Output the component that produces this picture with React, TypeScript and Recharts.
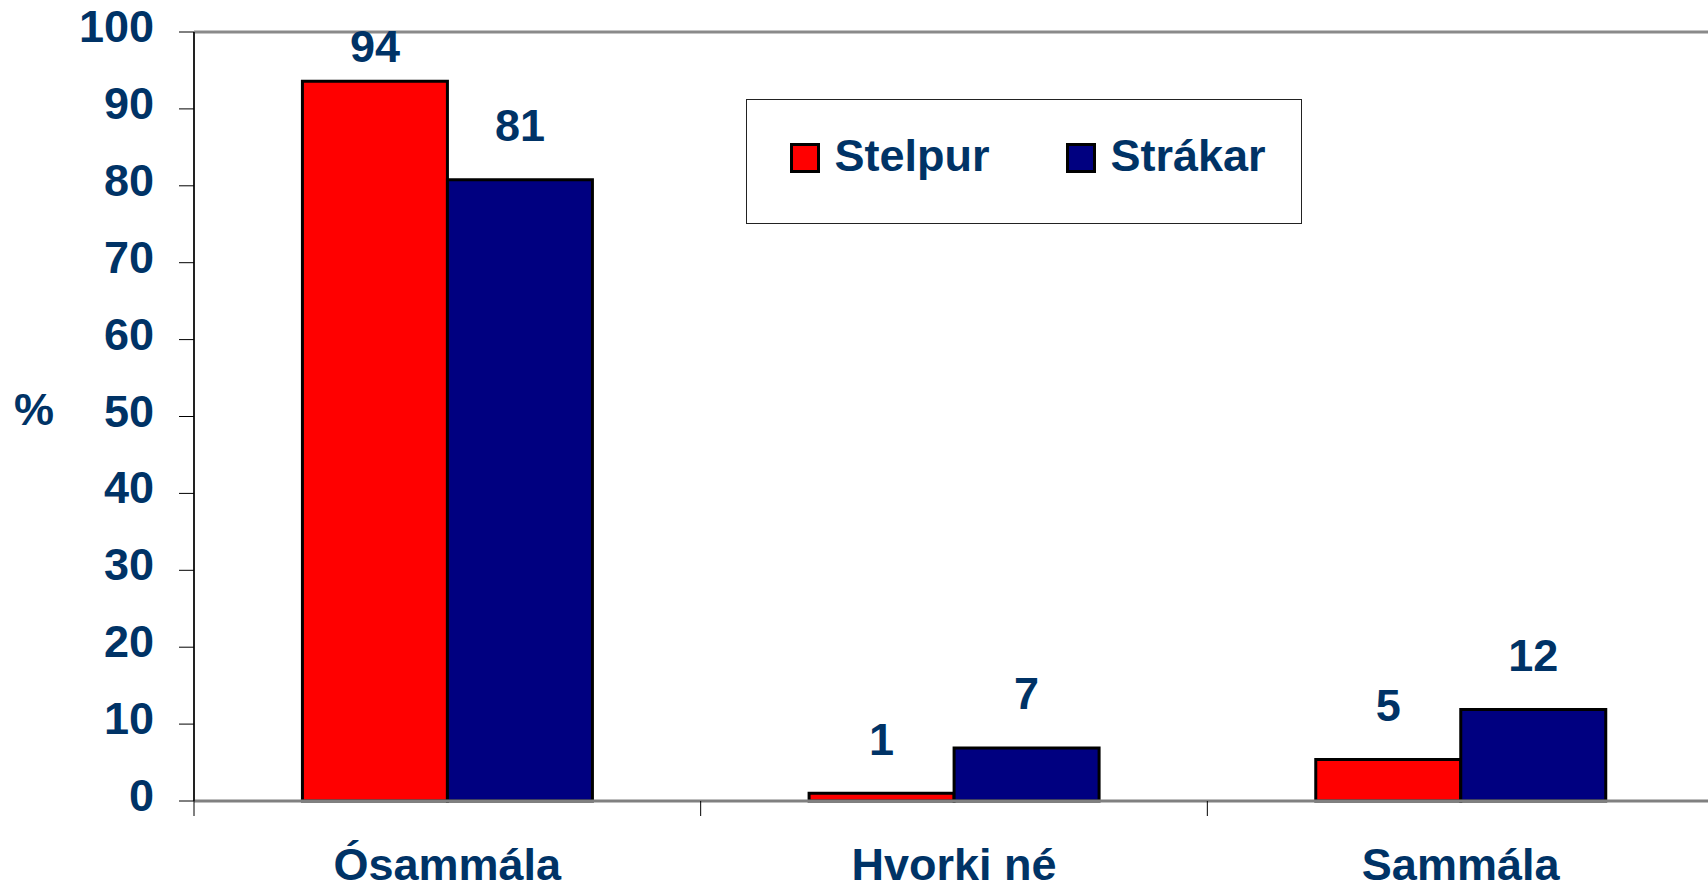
import React from 'react';
import { BarChart, Bar, XAxis, YAxis, Legend, LabelList, ReferenceLine } from 'recharts';

const categories = ['Ósammála', 'Hvorki né', 'Sammála'];
const stelpur = [93.6, 1.0, 5.4];
const strakar = [80.8, 6.9, 11.9];
const yTicks = [0, 10, 20, 30, 40, 50, 60, 70, 80, 90, 100];
const seriesNames = { stelpur: 'Stelpur', strakar: 'Strákar' };

const data = categories.map((c, i) => ({ name: c, stelpur: stelpur[i], strakar: strakar[i] }));

const FONT = '"Liberation Sans", Arial, Helvetica, sans-serif';
const TEXT = '#003366';
const RED = '#FF0000';
const NAVY = '#000080';

const YTick = (props: any) => {
  const { x, y, payload } = props;
  return (
    <text x={x} y={y} dy={10} textAnchor="end" fill={TEXT} fontFamily={FONT} fontWeight="bold" fontSize={45}>
      {payload.value}
    </text>
  );
};

const XTick = (props: any) => {
  const { x, y, payload } = props;
  const off = payload && typeof payload.offset === 'number' ? payload.offset : 253;
  return (
    <g>
      <line x1={x - off} x2={x - off} y1={y} y2={y + 15} stroke="#000" strokeWidth={1} />
      <text x={x} y={y + 79} textAnchor="middle" fill={TEXT} fontFamily={FONT} fontWeight="bold" fontSize={45}>
        {payload.value}
      </text>
    </g>
  );
};

const renderLabel = (props: any) => {
  const { x, y, width, value } = props;
  const baseline = Math.max(y - 38.5, 62);
  return (
    <text x={x + width / 2} y={baseline} textAnchor="middle" fill={TEXT} fontFamily={FONT} fontWeight="bold" fontSize={45}>
      {Math.round(value)}
    </text>
  );
};

const LegendBox = (props: any) => {
  const { payload } = props;
  return (
    <div
      style={{
        position: 'relative',
        width: 556,
        height: 125,
        boxSizing: 'border-box',
        border: '1px solid #222',
        background: '#fff',
        fontFamily: FONT,
      }}
    >
      <div style={{ position: 'absolute', left: 43, top: 43, height: 30, display: 'flex', alignItems: 'center' }}>
        {(payload || []).map((p: any) => (
          <div key={p.value} style={{ width: 276, display: 'flex', alignItems: 'center', height: 30 }}>
            <div
              style={{
                width: 30,
                height: 30,
                boxSizing: 'border-box',
                border: '3px solid #000',
                background: p.color,
              }}
            />
            <span
              style={{
                marginLeft: 14.5,
                fontSize: 45,
                fontWeight: 'bold',
                color: TEXT,
                lineHeight: '30px',
                position: 'relative',
                top: -2,
                whiteSpace: 'nowrap',
              }}
            >
              {p.value}
            </span>
          </div>
        ))}
      </div>
    </div>
  );
};

const PercentLabel = () => (
  <text x={14} y={425} textAnchor="start" fill={TEXT} fontFamily={FONT} fontWeight="bold" fontSize={45}>
    %
  </text>
);

export default function App() {
  return (
    <div style={{ position: 'absolute', left: 0, top: 0, width: 1708, height: 889, overflow: 'hidden', background: '#fff' }}>
      <BarChart
        width={1720}
        height={889}
        data={data}
        margin={{ top: 32, right: 6, bottom: 0, left: 0 }}
        barCategoryGap="21.4%"
        barGap={0}
      >
        <ReferenceLine y={100} stroke="#8a8a8a" strokeWidth={3} />
        <XAxis
          dataKey="name"
          height={88}
          tickLine={false}
          tickSize={0}
          tickMargin={0}
          axisLine={{ stroke: '#808080', strokeWidth: 3 }}
          tick={<XTick />}
          interval={0}
        />
        <YAxis
          width={194}
          domain={[0, 100]}
          ticks={yTicks}
          interval={0}
          tickSize={15}
          tickMargin={25}
          tickLine={{ stroke: '#000', strokeWidth: 1 }}
          axisLine={{ stroke: '#222', strokeWidth: 2 }}
          tick={<YTick />}
          label={<PercentLabel />}
        />
        <Legend
          layout="horizontal"
          align="center"
          verticalAlign="middle"
          width={556}
          height={125}
          wrapperStyle={{ left: 746, top: 99, width: 556, height: 125 }}
          content={<LegendBox />}
        />
        <Bar dataKey="stelpur" name={seriesNames.stelpur} fill={RED} stroke="#000" strokeWidth={3} isAnimationActive={false}>
          <LabelList dataKey="stelpur" content={renderLabel} />
        </Bar>
        <Bar dataKey="strakar" name={seriesNames.strakar} fill={NAVY} stroke="#000" strokeWidth={3} isAnimationActive={false}>
          <LabelList dataKey="strakar" content={renderLabel} />
        </Bar>
      </BarChart>
    </div>
  );
}
